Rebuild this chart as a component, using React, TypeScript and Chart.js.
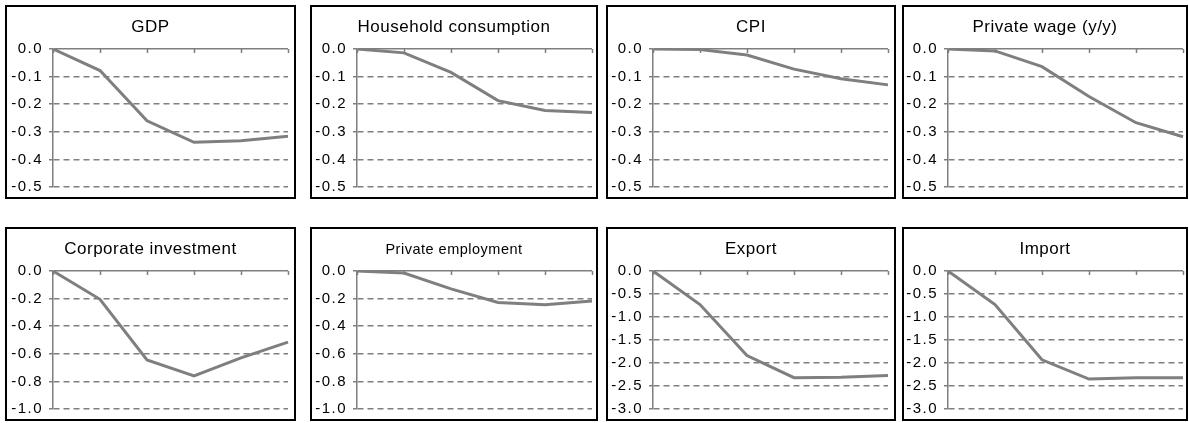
import React, { useEffect, useRef } from "react";
import { Chart, registerables } from "chart.js";

Chart.register(...registerables);

// Periods after the shock (x positions of every series)
const periods = ["0", "1", "2", "3", "4", "5"];

// Responses by indicator
const gdp = [0, -0.078, -0.26, -0.338, -0.332, -0.316];
const householdConsumption = [0, -0.014, -0.085, -0.187, -0.223, -0.23];
const cpi = [0, -0.002, -0.022, -0.073, -0.108, -0.13];
const privateWage = [0, -0.007, -0.064, -0.172, -0.267, -0.318];
const corporateInvestment = [0, -0.205, -0.645, -0.76, -0.63, -0.515];
const privateEmployment = [0, -0.015, -0.13, -0.228, -0.245, -0.218];
const exportResponse = [0, -0.73, -1.84, -2.32, -2.31, -2.27];
const importResponse = [0, -0.73, -1.93, -2.35, -2.32, -2.32];

// Panel titles
const titles = [
  "GDP",
  "Household consumption",
  "CPI",
  "Private wage (y/y)",
  "Corporate investment",
  "Private employment",
  "Export",
  "Import",
];

// Y-axis ranges (minimum and tick step) per panel
const yMins = [-0.5, -0.5, -0.5, -0.5, -1.0, -1.0, -3.0, -3.0];
const ySteps = [0.1, 0.1, 0.1, 0.1, 0.2, 0.2, 0.5, 0.5];

const seriesList = [
  gdp,
  householdConsumption,
  cpi,
  privateWage,
  corporateInvestment,
  privateEmployment,
  exportResponse,
  importResponse,
];

const FONT = "'Liberation Sans', Arial, Helvetica, sans-serif";
const GREY = "#7f7f7f";
const BORDER = 2;

// Grid geometry of the small multiples
const colLefts = [5, 310, 606, 902];
const colRights = [296, 598, 896, 1188];
const axisXs = [53, 357, 653, 948];
const PLOT_W = 235;
const rowTops = [5, 227];
const PANEL_H = 194;
const PLOT_TOP = 44;
const PLOT_BOTTOM = 182;
const TITLE_CENTER = 22;

// Wider tracking for the axis numbers
const tickSpacing = {
  id: "tickSpacing",
  beforeDraw(chart: any) {
    chart.ctx.letterSpacing = "1.5px";
  },
};

// Short downward tick marks on the zero line, one per period
const zeroLineTicks = {
  id: "zeroLineTicks",
  beforeDatasetsDraw(chart: any) {
    const { ctx, scales } = chart;
    const x = scales.x;
    const y = scales.y;
    const y0 = y.getPixelForValue(0);
    ctx.save();
    ctx.strokeStyle = GREY;
    ctx.lineWidth = 1.5;
    ctx.beginPath();
    for (let i = 0; i < periods.length; i++) {
      const px = Math.round(x.getPixelForValue(i)) + 0.5;
      ctx.moveTo(px, y0);
      ctx.lineTo(px, y0 + 4);
    }
    ctx.stroke();
    ctx.restore();
  },
};

type PanelProps = {
  index: number;
};

function Panel({ index }: PanelProps) {
  const ref = useRef<HTMLCanvasElement>(null);
  const col = index % 4;
  const row = Math.floor(index / 4);
  const left = colLefts[col];
  const width = colRights[col] - left;
  const top = rowTops[row];
  const innerW = width - 2 * BORDER;
  const innerH = PANEL_H - 2 * BORDER;
  const axisW = axisXs[col] - left - BORDER;
  const rightPad = Math.max(0, innerW - axisW - PLOT_W);
  const plotTop = PLOT_TOP - BORDER;
  const bottomPad = innerH - (PLOT_BOTTOM - BORDER);
  const small = index === 5;
  const titleSize = small ? 14.5 : 17;
  const titleLine = 20;

  useEffect(() => {
    const canvas = ref.current;
    if (!canvas) return;
    const chart = new Chart(canvas, {
      type: "line",
      data: {
        labels: periods,
        datasets: [
          {
            data: seriesList[index],
            borderColor: GREY,
            borderWidth: 3,
            pointRadius: 0,
            tension: 0,
            fill: false,
          },
        ],
      },
      options: {
        animation: false,
        responsive: false,
        devicePixelRatio: 1,
        layout: { padding: { left: 0, right: rightPad, top: plotTop, bottom: bottomPad } },
        plugins: {
          legend: { display: false },
          tooltip: { enabled: false },
          title: { display: false },
        },
        scales: {
          x: { type: "category", display: false, offset: false },
          y: {
            min: yMins[index],
            max: 0,
            afterFit: (s: any) => {
              s.width = axisW;
              s.paddingTop = 0;
              s.paddingBottom = 0;
            },
            ticks: {
              stepSize: ySteps[index],
              color: "#000",
              font: { family: FONT, size: 15 },
              padding: 6,
              callback: (v: any) => Number(v).toFixed(1),
            },
            grid: {
              color: GREY,
              lineWidth: 1.5,
              tickLength: 4,
              drawTicks: true,
            },
            border: {
              display: true,
              color: GREY,
              width: 1.5,
              dash: (c: any) => (c.tick && Math.abs(c.tick.value) < 1e-9 ? [] : [6, 4]),
            },
          },
        },
      } as any,
      plugins: [tickSpacing, zeroLineTicks],
    });
    return () => chart.destroy();
  }, [index]);

  return (
    <div
      style={{
        position: "absolute",
        left,
        top,
        width,
        height: PANEL_H,
        boxSizing: "border-box",
        border: `${BORDER}px solid #000`,
        background: "#fff",
      }}
    >
      <canvas ref={ref} width={innerW} height={innerH} style={{ display: "block" }} />
      <div
        style={{
          position: "absolute",
          left: 0,
          right: 0,
          top: TITLE_CENTER - BORDER - titleLine / 2,
          height: titleLine,
          lineHeight: `${titleLine}px`,
          textAlign: "center",
          fontFamily: FONT,
          fontSize: titleSize,
          letterSpacing: "0.5px",
          color: "#000",
          whiteSpace: "nowrap",
        }}
      >
        {titles[index]}
      </div>
    </div>
  );
}

export default function App() {
  return (
    <div
      style={{
        position: "fixed",
        left: 0,
        top: 0,
        width: 1189,
        height: 423,
        background: "#fff",
        overflow: "hidden",
      }}
    >
      {titles.map((_, i) => (
        <Panel key={i} index={i} />
      ))}
    </div>
  );
}
